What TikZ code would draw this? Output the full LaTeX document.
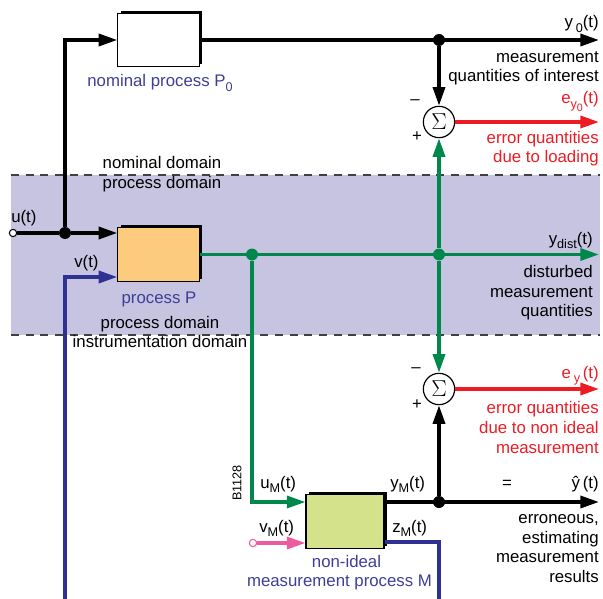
\documentclass[tikz,border=0pt]{standalone}
\usepackage{fontspec}
\setmainfont{Liberation Sans}
\usetikzlibrary{arrows.meta,shadows}
\definecolor{bandfill}{RGB}{198,196,225}
\definecolor{lineblue}{RGB}{46,49,146}
\definecolor{labelblue}{RGB}{62,62,150}
\definecolor{sigred}{RGB}{237,28,36}
\definecolor{siggreen}{RGB}{0,135,75}
\definecolor{sigpink}{RGB}{236,90,160}
\definecolor{procfill}{RGB}{253,203,126}
\definecolor{measfill}{RGB}{213,226,140}
\newcommand{\lbl}{\fontsize{12.6}{15}\selectfont}
\newcommand{\lsub}[1]{\raisebox{-0.25em}{\fontsize{9.5}{10}\selectfont #1}}
\newcommand{\lsubsub}[1]{\raisebox{-0.25em}{\fontsize{8}{8}\selectfont #1}}
\begin{document}
\begin{tikzpicture}[x=0.75pt,y=-0.75pt,
  sig/.style={line width=2.6pt,-{Triangle[length=14pt,width=9pt]}},
  plain/.style={line width=2.6pt},
  block/.style={draw,line width=0.8pt,inner sep=0,minimum width=#1,minimum height=40pt,
     drop shadow={shadow xshift=2pt,shadow yshift=2pt,opacity=1,fill=black}},
  dot/.style={circle,fill,inner sep=0,minimum size=9pt},
  port/.style={circle,draw,fill=white,line width=0.8pt,inner sep=0,minimum size=5.5pt},
  summer/.style={circle,draw,fill=white,line width=0.9pt,inner sep=0,minimum size=23.5pt,font=\fontsize{17}{17}\selectfont},
  txt/.style={inner sep=0,font=\lbl},
  boundary/.style={dash pattern=on 6pt off 5pt,line width=0.8pt,black!75},
]
\useasboundingbox (0,0) rectangle (603,599);
% process domain band
\fill[bandfill] (11,175) rectangle (600,335);
\draw[boundary] (11,175) -- (600,175);
\draw[boundary] (11,335) -- (600,335);

% blocks
\node[block=61pt,fill=white] (P0) at (158.5,40) {};
\node[block=61pt,fill=procfill] (P) at (158.5,254.5) {};
\node[block=58.5pt,fill=measfill] (M) at (345,521.5) {};

% summing points
\node[summer] (s1) at (439,122) {$\Sigma$};
\node[summer] (s2) at (439,389) {$\Sigma$};

% junctions, ports and line ends
\coordinate (y0end) at (599,40);
\node[dot] (j0) at (439,40) {};
\node[port] (uin) at (13,233) {};
\node[dot] (ju) at (65,233) {};
\coordinate (vbot) at (65,599);
\coordinate (vk) at (65,277);
\node[dot,siggreen] (jg1) at (252,254.5) {};
\node[dot,siggreen] (jg2) at (439,254.5) {};
\coordinate (ydend) at (599,254.5);
\coordinate (umk) at (252,502);
\node[dot] (jm) at (439,502) {};
\coordinate (yhatend) at (599,502);
\coordinate (e0end) at (599,122);
\coordinate (eyend) at (599,389);
\coordinate (zk) at (439,542);
\coordinate (zbot) at (439,599);
\node[port,draw=sigpink] (vmin) at (253,543) {};

% signal lines
\draw[sig] (P0.east) -- (y0end);
\draw[sig] (j0) -- (s1);
\draw[sig,sigred] (s1) -- (e0end);
\draw[plain] (uin) -- (ju);
\draw[sig] (ju) -- (P.west |- ju);
\draw[sig] (ju) |- (P0.west);
\draw[sig,lineblue] (vbot) -- (vk) -- (P.west |- vk);
\draw[sig,siggreen] (P.east) -- (ydend);
\draw[sig,siggreen] (jg2) -- (s1);
\draw[sig,siggreen] (jg2) -- (s2);
\draw[sig,siggreen] (jg1) -- (umk) -- (M.west |- umk);
\draw[sig] (M.east |- umk) -- (yhatend);
\draw[sig] (jm) -- (s2);
\draw[sig,sigred] (s2) -- (eyend);
\draw[plain,lineblue] (M.east |- zk) -- (zk) -- (zbot);
\draw[sig,sigpink] (vmin) -- (M.west |- vmin);

% labels: upper part
\node[txt,anchor=base east] (ly0) at (599,28) {y\,\lsub{0}(t)};
\node[txt,anchor=base east] (lq1) at (599,63) {measurement};
\node[txt,anchor=base east] (lq2) at (599,82) {quantities of interest};
\node[txt,anchor=base east,text=sigred] (le0) at (599,104) {e\lsub{y\lsubsub{0}}(t)};
\node[txt,anchor=base east,text=sigred] (le01) at (599,144) {error quantities};
\node[txt,anchor=base east,text=sigred] (le02) at (599,163) {due to loading};
\node[txt] (s1minus) at (415,102) {\textendash};
\node[txt] (s1plus) at (417,137) {+};
\node[txt,anchor=base,text=labelblue] (lp0) at (160,87) {nominal process P\lsub{0}};
\node[txt,anchor=base] (ldom1) at (162,169) {nominal domain};
\node[txt,anchor=base] (ldom2) at (162,189) {process domain};

% labels: process domain
\node[txt,anchor=base west] (lu) at (11,223) {u(t)};
\node[txt,anchor=base west] (lv) at (74,267) {v(t)};
\node[txt,anchor=base,text=labelblue] (lp) at (159,303) {process P};
\node[txt,anchor=base] (ldom3) at (160,328) {process domain};
\node[txt,anchor=base] (ldom4) at (160,347) {instrumentation domain};
\node[txt,anchor=base east] (lyd) at (593,244) {y\lsub{dist}(t)};
\node[txt,anchor=base east] (ld1) at (593,277) {disturbed};
\node[txt,anchor=base east] (ld2) at (593,297) {measurement};
\node[txt,anchor=base east] (ld3) at (593,316) {quantities};

% labels: instrumentation domain
\node[txt,anchor=base east,text=sigred] (ley) at (599,378) {e\,\lsub{y}\,(t)};
\node[txt,anchor=base east,text=sigred] (le1) at (599,413) {error quantities};
\node[txt,anchor=base east,text=sigred] (le2) at (599,433) {due to non ideal};
\node[txt,anchor=base east,text=sigred] (le3) at (599,453) {measurement};
\node[txt] (s2minus) at (416,370) {\textendash};
\node[txt] (s2plus) at (417,405) {+};
\node[txt,anchor=base west] (lum) at (260,488) {u\lsub{M}(t)};
\node[txt,anchor=base west] (lym) at (390,488) {y\lsub{M}(t)};
\node[txt] (leq) at (507,484) {=};
\node[txt,anchor=base east] (lyh) at (599,488) {ŷ\,(t)};
\node[txt,anchor=base west] (lvm) at (259,532) {v\lsub{M}(t)};
\node[txt,anchor=base west] (lzm) at (392,532) {z\lsub{M}(t)};
\node[txt,anchor=base,text=labelblue] (lm1) at (346.5,567) {non-ideal};
\node[txt,anchor=base,text=labelblue] (lm2) at (339.5,586) {measurement process M};
\node[txt,anchor=base east] (lr1) at (599,523) {erroneous,};
\node[txt,anchor=base east] (lr2) at (599,543) {estimating};
\node[txt,anchor=base east] (lr3) at (599,562) {measurement};
\node[txt,anchor=base east] (lr4) at (599,582) {results};
\node[inner sep=0,rotate=90,font=\fontsize{9.5}{9.5}\selectfont] (code) at (237,483) {B1128};
\end{tikzpicture}
\end{document}
